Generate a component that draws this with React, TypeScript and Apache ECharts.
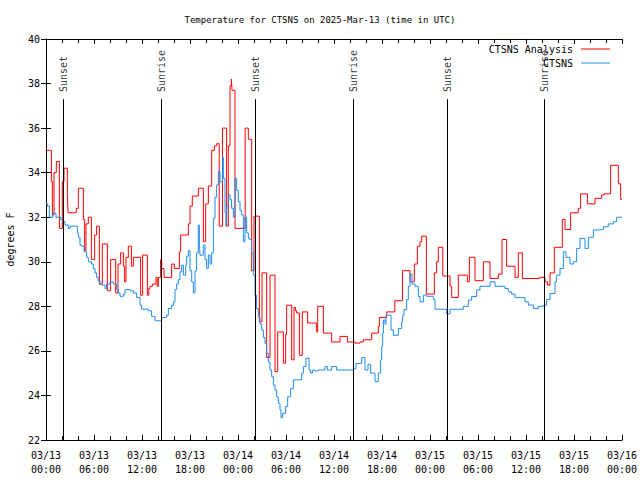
import { useEffect, useRef } from 'react';
import * as echarts from 'echarts';

const xTickLabels = ['03/13\n00:00', '03/13\n06:00', '03/13\n12:00', '03/13\n18:00', '03/14\n00:00', '03/14\n06:00', '03/14\n12:00', '03/14\n18:00', '03/15\n00:00', '03/15\n06:00', '03/15\n12:00', '03/15\n18:00', '03/16\n00:00'];

// hours since 03/13 00:00 UTC
const sunHours = [2.16, 14.45, 26.16, 38.4, 50.16, 62.29];
const sunLabels = ['Sunset', 'Sunrise', 'Sunset', 'Sunrise', 'Sunset', 'Sunrise'];

const redHours = [0,0.67,0.8,1.0,1.29,1.67,2.04,2.25,2.67,2.75,
3.79,4.04,4.67,4.83,5.0,5.29,5.67,6.08,6.33,6.67,
7.04,7.67,8.08,8.71,9.0,9.33,9.67,9.83,10.0,10.29,
10.67,10.92,11.83,12.08,12.67,12.85,13.0,13.3,13.75,13.9,
14.04,14.33,14.46,14.75,15.71,16.04,16.67,16.83,17.79,18.0,
18.29,19.04,19.67,19.96,20.29,20.71,21.04,21.33,21.65,22.06,
22.58,22.79,23.0,23.17,23.25,23.63,24.9,25.29,25.71,26.0,
26.67,27.0,27.58,28.0,28.625,28.96,29.67,29.96,30.08,30.71,
31.0,31.2,31.33,31.67,32.04,32.71,33.83,33.96,34.67,35.71,
36.75,37.67,38.625,39.25,39.67,40.71,41.54,41.67,42.58,43.6,
44.56,45.5,46.04,46.42,46.75,46.96,47.55,48.54,48.83,49.04,
49.6,50.5,50.71,51.54,52.67,52.92,53.625,54.67,55.5,56.54,
57.0,57.58,58.625,59.04,59.54,61.67,62.375,62.67,63.0,63.54,
64.54,64.875,65.58,66.54,66.83,67.67,68.625,69.46,69.75,70.58,
71.54,71.83,72];

const redTemps = [35.0,33.6,32.1,34.0,34.5,31.5,33.6,34.2,33.1,32.2,
32.4,33.3,31.9,30.5,31.7,32.0,30.1,31.2,31.6,29.0,
30.8,28.7,30.1,28.6,29.9,30.4,29.8,29.1,30.2,30.7,
29.8,30.2,28.5,30.3,28.5,28.8,28.9,29.0,29.3,28.9,
29.3,30.1,29.7,29.3,29.9,29.7,30.45,31.2,31.7,32.5,
32.95,33.3,30.9,32.6,33.4,35.0,35.2,35.3,31.6,36.0,
31.6,35.2,37.9,38.2,37.7,31.5,36.0,35.5,29.6,32.05,
27.3,29.5,25.7,29.4,25.07,26.85,25.45,26.75,28.05,25.6,
27.95,27.8,27.7,25.8,27.75,27.25,26.85,28.0,26.8,26.4,
26.65,26.4,26.35,26.4,26.5,26.8,27.1,27.5,27.75,28.25,
29.6,29.1,29.9,30.7,30.9,31.15,28.55,29.5,30.0,30.65,
29.36,28.9,28.4,29.4,29.1,30.2,29.15,30.0,29.25,29.45,
31.0,29.8,29.3,30.4,29.25,29.3,29.1,28.95,29.5,30.65,
31.9,31.45,32.2,32.4,33.05,32.6,32.85,33.0,33.05,34.33,
33.5,32.8,32.8];

const blueHours = [0,0.2,0.42,0.83,1.25,1.83,2.1,2.375,2.79,3.0,
3.625,3.92,4.04,4.25,4.46,4.75,5.08,5.29,5.71,5.92,
6.125,6.33,6.54,6.75,6.96,7.375,7.58,8.0,8.42,8.83,
9.04,9.25,9.67,9.875,10.5,10.92,11.33,11.75,11.96,12.79,
13.2,13.625,14.46,15.08,15.29,15.71,15.92,16.125,16.33,16.54,
16.75,16.96,17.17,17.46,17.58,17.79,18.0,18.21,18.42,18.625,
18.83,19.04,19.17,19.25,19.67,19.875,20.08,20.29,20.5,20.71,
20.92,21.125,21.33,21.54,21.75,22.08,22.17,22.375,22.5,22.58,
22.79,23.0,23.2,23.42,23.625,23.83,24.04,24.25,24.46,24.67,
24.875,25.08,25.29,25.5,25.71,25.92,26.125,26.33,26.54,26.75,
26.96,27.17,27.375,27.58,27.79,28.0,28.21,28.42,28.625,28.83,
29.04,29.25,29.375,29.58,29.96,30.21,30.58,30.92,31.33,31.96,
32.17,32.5,32.875,33.08,33.3,33.625,34.0,34.875,35.17,35.71,
36.33,38.42,38.75,39.46,39.875,40.25,40.58,41.125,41.54,41.83,
41.96,42.08,42.17,42.375,42.5,42.79,43.125,43.42,44.04,44.46,
44.58,44.75,45.08,45.29,45.5,45.75,46.125,46.54,46.75,47.17,
47.58,48.42,48.625,50.08,50.5,52.17,52.79,53.21,53.83,54.25,
55.5,56.125,57.375,57.79,58.21,58.625,59.875,60.29,60.92,61.54,
62.17,62.58,63.0,63.625,63.83,64.25,64.67,65.0,65.5,65.92,
66.33,66.75,67.375,67.79,68.42,69.25,69.67,70.29,70.92,71.33,
72];

const blueTemps = [32.6,32.5,32.0,32.17,32.0,31.9,31.8,31.65,31.5,31.6,
31.6,31.3,31.1,30.75,30.7,30.45,30.2,30.0,29.9,29.7,
29.5,29.3,29.15,29.0,28.95,28.8,29.0,29.1,29.0,28.75,
28.6,28.45,28.55,28.75,28.7,28.6,28.4,28.05,27.87,27.8,
27.55,27.35,27.5,27.6,27.9,28.05,28.2,28.75,29.0,29.2,
29.55,29.85,29.4,29.85,30.25,30.5,29.6,29.1,28.6,29.6,
30.4,31.65,30.8,30.3,30.75,30.1,29.7,30.3,29.9,30.4,
31.95,32.9,33.45,34.05,33.6,34.7,33.75,32.2,31.6,32.5,
33.0,32.8,32.4,32.0,33.75,33.2,32.7,32.3,32.1,30.9,
32.0,31.3,31.05,31.0,30.4,29.4,28.5,27.9,27.53,27.2,
26.94,26.6,26.34,25.9,25.5,25.14,24.84,24.47,24.24,23.94,
23.65,23.35,23.0,23.2,23.5,23.94,24.3,24.7,24.7,25.0,
25.3,25.67,25.14,25.0,25.14,25.1,25.14,25.3,25.14,25.3,
25.14,25.2,25.44,25.7,25.14,25.4,25.0,24.62,25.0,25.6,
26.19,26.8,27.39,27.2,27.6,27.6,26.94,26.7,27.0,27.3,
27.6,27.85,28.3,28.9,29.45,29.0,28.9,28.44,28.2,28.5,
28.45,28.3,27.87,27.66,27.87,28.0,28.28,28.44,28.73,28.9,
29.1,28.9,28.8,28.65,28.55,28.39,28.2,28.06,27.9,28.0,
28.05,28.3,28.58,29.1,29.4,29.7,30.45,30.2,29.9,30.0,
30.6,31.05,30.6,31.1,31.43,31.45,31.57,31.7,31.8,32.0,
32.0];

const FONT = 'DejaVu Sans Mono';
const SUN_LINE_TOP = 37.3;
const SUN_LABEL_BASE = 37.62;

export default function App() {
  const ref = useRef<HTMLDivElement>(null);
  useEffect(() => {
    const chart = echarts.init(ref.current!, null, { renderer: 'svg' });
    const xBase = {
      type: 'value', min: 0, max: 72, interval: 6,
      axisLine: { show: true, lineStyle: { color: '#000', width: 1 } },
      axisTick: { show: true, inside: true, length: 5, lineStyle: { color: '#000' } },
      minorTick: { show: true, splitNumber: 3, length: 4, lineStyle: { color: '#000' } },
      splitLine: { show: false },
    };
    const yBase = {
      type: 'value', min: 22, max: 40, interval: 2,
      axisLine: { show: true, lineStyle: { color: '#000', width: 1 } },
      axisTick: { show: true, inside: true, length: 5, lineStyle: { color: '#000' } },
      splitLine: { show: false },
    };
    chart.setOption({
      animation: false,
      backgroundColor: '#fff',
      textStyle: { fontFamily: FONT },
      title: {
        text: 'Temperature for CTSNS on 2025-Mar-13 (time in UTC)',
        left: 'center', top: 15, padding: 0,
        textStyle: { fontFamily: FONT, fontSize: 9, fontWeight: 'normal', color: '#000' },
      },
      grid: { left: 46, right: 18, top: 39, bottom: 40, containLabel: false, outerBoundsMode: 'none' },
      legend: [
        {
          data: [{ name: 'CTSNS Analysis', icon: 'rect' }], right: 30, top: 44, padding: 0,
          align: 'right', itemWidth: 29, itemHeight: 1, selectedMode: false,
          textStyle: { fontFamily: FONT, fontSize: 10, color: '#000', padding: [0, 3, 0, 0] },
        },
        {
          data: [{ name: 'CTSNS', icon: 'rect' }], right: 30, top: 58, padding: 0,
          align: 'right', itemWidth: 29, itemHeight: 1, selectedMode: false,
          textStyle: { fontFamily: FONT, fontSize: 10, color: '#000', padding: [0, 3, 0, 0] },
        },
      ],
      xAxis: [
        {
          ...xBase, position: 'bottom',
          axisLabel: {
            formatter: (v: number) => xTickLabels[Math.round(v / 6)] ?? '',
            fontFamily: FONT, fontSize: 10, color: '#000', lineHeight: 14, margin: 8,
          },
        },
        { ...xBase, position: 'top', axisLabel: { show: false } },
      ],
      yAxis: [
        {
          ...yBase, position: 'left',
          name: 'degrees F', nameLocation: 'middle', nameGap: 31,
          nameTextStyle: { fontFamily: FONT, fontSize: 10, color: '#000' },
          axisLabel: { fontFamily: FONT, fontSize: 10, color: '#000', margin: 6 },
        },
        { ...yBase, position: 'right', axisLabel: { show: false } },
      ],
      series: [
        {
          name: 'CTSNS Analysis', type: 'line', step: 'end', symbol: 'none', showSymbol: false,
          color: '#ff0000', lineStyle: { color: '#ff0000', width: 1 },
          data: redHours.map((h, i) => [h, redTemps[i]]),
          z: 3,
        },
        {
          name: 'CTSNS', type: 'line', step: 'end', symbol: 'none', showSymbol: false,
          color: '#1e8cf0', lineStyle: { color: '#1e8cf0', width: 1 },
          data: blueHours.map((h, i) => [h, blueTemps[i]]),
          z: 4,
        },
        {
          name: 'sun', type: 'scatter', symbolSize: 0, silent: true, z: 2,
          data: sunHours.map((h, i) => ({ value: [h, SUN_LABEL_BASE], name: sunLabels[i] })),
          label: {
            show: true, formatter: (p: any) => p.name, position: [0, 0], rotate: 90,
            align: 'left', verticalAlign: 'middle',
            fontFamily: FONT, fontSize: 10, color: '#000',
          },
          markLine: {
            silent: true, symbol: 'none', label: { show: false },
            lineStyle: { color: '#000', width: 1, type: 'solid' },
            data: sunHours.map((h) => [{ coord: [h, 22] }, { coord: [h, SUN_LINE_TOP] }]),
          },
        },
      ],
    });
    return () => chart.dispose();
  }, []);
  return <div ref={ref} style={{ position: 'fixed', left: 0, top: 0, width: 640, height: 480 }} />;
}
